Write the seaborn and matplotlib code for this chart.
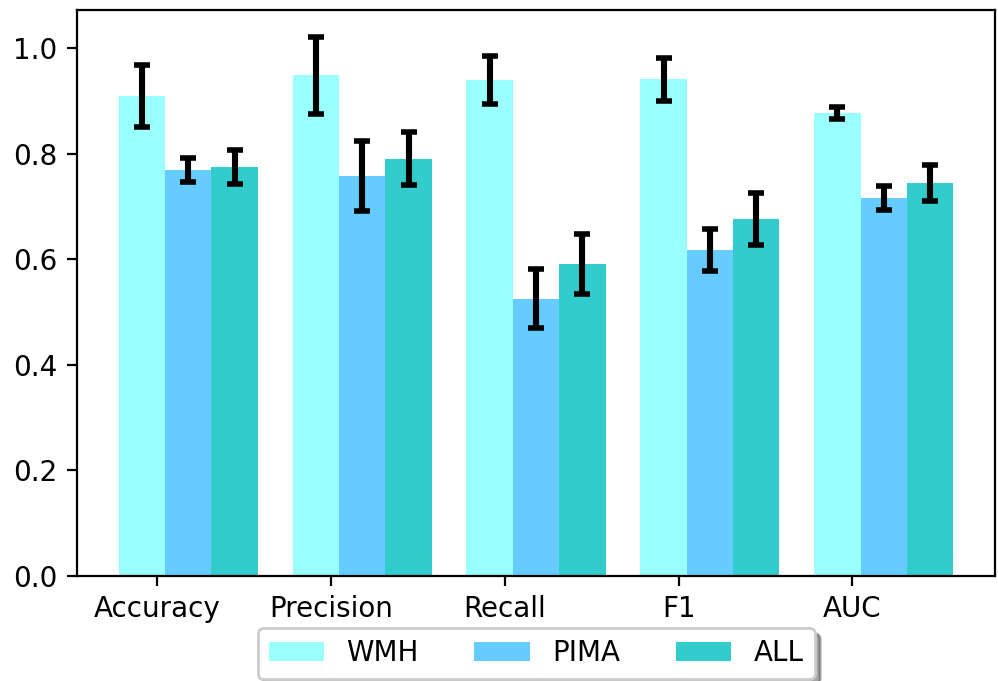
import numpy as np
import pandas as pd
import seaborn as sns
import matplotlib
matplotlib.use('Agg')
import matplotlib.pyplot as plt

metrics = ['Accuracy', 'Precision', 'Recall', 'F1', 'AUC']
groups = ['WMH', 'PIMA', 'ALL']

wmh_mean = [0.909, 0.948, 0.939, 0.941, 0.877]
wmh_err = [0.058, 0.073, 0.045, 0.041, 0.011]
pima_mean = [0.769, 0.758, 0.525, 0.617, 0.716]
pima_err = [0.023, 0.066, 0.056, 0.040, 0.022]
all_mean = [0.775, 0.790, 0.591, 0.676, 0.744]
all_err = [0.032, 0.050, 0.056, 0.049, 0.034]

colors = ['#99FFFF', '#66CCFF', '#33CCCC']

df = pd.DataFrame({
    'metric': metrics * 3,
    'group': [g for g in groups for _ in metrics],
    'value': wmh_mean + pima_mean + all_mean,
    'err': wmh_err + pima_err + all_err,
})

fig, ax = plt.subplots(figsize=(4.99, 3.405), dpi=200)
fig.subplots_adjust(left=0.0772, right=0.997, top=0.9853, bottom=0.1542)

sns.barplot(data=df, x='metric', y='value', hue='group', order=metrics,
            hue_order=groups, palette=colors, errorbar=None, width=0.8,
            saturation=1, ax=ax)

# error bars on top of each bar, centred on the bar
for g, bars in zip(groups, ax.containers):
    sub = df[df['group'] == g].set_index('metric').loc[metrics]
    xs = [b.get_x() + b.get_width() / 2 for b in bars]
    ax.errorbar(xs, sub['value'], yerr=sub['err'], fmt='none', ecolor='black',
                elinewidth=2.2, capsize=3, capthick=2)

ax.set_xlim(-0.64, 4.64)
ax.set_ylim(0, 1.072)
ax.set_yticks([0.0, 0.2, 0.4, 0.6, 0.8, 1.0])
ax.set_xticks(np.arange(len(metrics)) - 0.18)
ax.set_xticklabels(metrics)
ax.set_xlabel('')
ax.set_ylabel('')

ax.legend(loc='upper center', bbox_to_anchor=(0.5, -0.068), ncol=3, shadow=True)

fig.savefig('out.png', dpi=200)
